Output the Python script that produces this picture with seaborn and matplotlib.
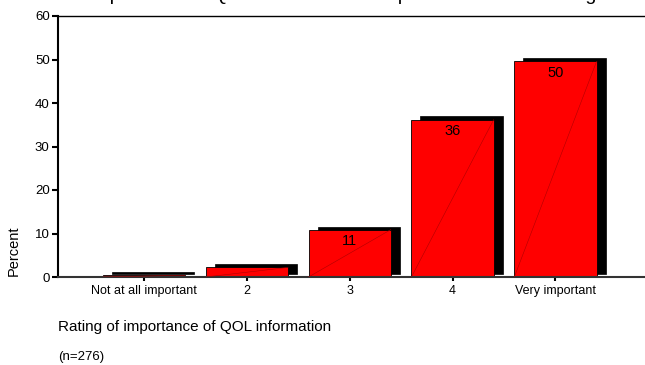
import matplotlib
matplotlib.use("Agg")
import matplotlib.pyplot as plt
import seaborn as sns
import numpy as np
import pandas as pd

categories = ["Not at all important", "2", "3", "4", "Very important"]
percent = [0.4, 2.2, 10.9, 36.2, 49.6]
bar_labels = ["", "", "11", "36", "50"]
title_text = "Importance of QOL information compared to survival rating"
xlabel_text = "Rating of importance of QOL information"
ylabel_text = "Percent"
note_text = "(n=276)"

sns.set_theme(style="white")
FAM = ['Liberation Sans', 'DejaVu Sans']
plt.rcParams['font.family'] = FAM

df = pd.DataFrame({"category": categories, "percent": percent})

fig = plt.figure(figsize=(6.45, 3.65), dpi=100)
ax = fig.add_axes([58/645, 1-277/365, 1-58/645, (277-16)/365])

width = 0.8
dx = 0.088   # shadow offset (x, data units)
dy = 0.7     # shadow offset (y, data units)
pos = np.arange(len(categories))

# shadow bars
ax.bar(pos + dx, percent, width=width, bottom=dy, color="black",
       edgecolor="black", linewidth=0.5, zorder=1)

# front bars
sns.barplot(data=df, x="category", y="percent", color="#ff0000",
            saturation=1, width=width, edgecolor="black", linewidth=0.6,
            ax=ax, zorder=2)

# faint diagonal inside each bar and labels
for p, v, lab in zip(pos, percent, bar_labels):
    ax.plot([p - width/2, p + width/2], [0, v], color="#b00000",
            linewidth=0.4, zorder=3)
    if lab:
        ax.text(p, v - 1.1, lab, ha="center", va="top", fontsize=10.5,
                color="black", zorder=4, family=FAM)

ax.set_xlim(-0.835, 4.87)
ax.set_ylim(0, 60)
ax.set_yticks([0, 10, 20, 30, 40, 50, 60])
ax.tick_params(axis="y", which="both", left=True, length=4, width=1.5,
               direction="out", pad=2, labelsize=9.5, colors="black")
ax.tick_params(axis="x", which="both", bottom=True, length=3, width=1.5,
               direction="out", pad=3, labelsize=9, colors="black")
for lab in ax.get_xticklabels() + ax.get_yticklabels():
    lab.set_color("black")

ax.spines["right"].set_visible(False)
ax.spines["left"].set_color("black")
ax.spines["left"].set_linewidth(1.5)
ax.spines["top"].set_color("black")
ax.spines["top"].set_linewidth(1.0)
ax.spines["bottom"].set_color("#333333")
ax.spines["bottom"].set_linewidth(1.5)

ax.set_xlabel("")
ax.set_ylabel(ylabel_text, fontsize=10.5, color="black")
ax.yaxis.set_label_coords(-0.063, 0.1)

fig.text(58/645, 1 - 327/365, xlabel_text, ha="left", va="center",
         fontsize=11, color="black")
fig.text(58/645, 1 - 357/365, note_text, ha="left", va="center",
         fontsize=9.5, color="black")
fig.text(88/645, 1.0 - 0.5/365, title_text, ha="left", va="baseline",
         fontsize=14, color="black")

fig.savefig("out.png", dpi=100)
